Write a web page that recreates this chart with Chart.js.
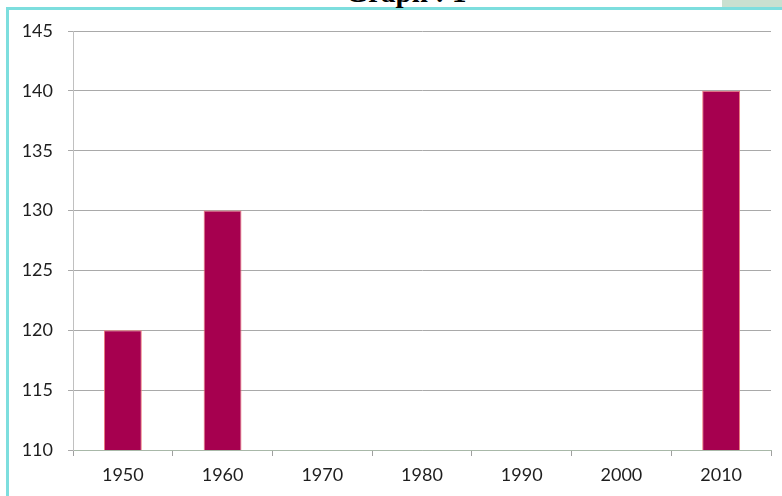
<!DOCTYPE html>
<html>
<head>
<meta charset="utf-8">
<script src="https://cdn.jsdelivr.net/npm/chart.js@4"></script>
<style>
  html, body { margin: 0; padding: 0; background: #fff; }
  #wrap { position: relative; width: 782px; height: 496px; overflow: hidden; }
  #frame { position: absolute; left: 6px; top: 7px; width: 800px; height: 520px;
           border: 3px solid #7ddede; box-sizing: border-box; }
  #title { position: absolute; left: 15px; width: 782px; top: -22px; text-align: center;
           font: bold 29px/29px "Liberation Serif", serif; color: #000; }
  #tab { position: absolute; left: 722px; top: 0; width: 60px; height: 7px; background: #c9e0d0; }
  canvas { position: absolute; left: 0; top: 0; }
</style>
</head>
<body>
<div id="wrap">
  <div id="frame"></div>
  <div id="tab"></div>
  <div id="title">Graph : 1</div>
  <canvas id="chart" width="782" height="496"></canvas>
</div>
<script>
// decades on the x axis
const years = ['1950', '1960', '1970', '1980', '1990', '2000', '2010'];
// bar heights, no bar drawn for the empty decades
const values = [120, 130, null, null, null, null, 140];
// y axis range
const yMin = 110;
const yMax = 145;
const yStep = 5;

const ctx = document.getElementById('chart').getContext('2d');
new Chart(ctx, {
  type: 'bar',
  data: {
    labels: years,
    datasets: [{
      data: values,
      backgroundColor: '#a6004f',
      borderColor: '#ee7a7a',
      borderWidth: 1,
      categoryPercentage: 1,
      barPercentage: 0.38,
    }],
  },
  options: {
    responsive: false,
    animation: false,
    layout: { padding: { top: 31, right: 11, left: 0, bottom: 0 } },
    plugins: {
      legend: { display: false },
      tooltip: { enabled: false },
    },
    scales: {
      x: {
        afterFit: (scale) => { scale.height = 46; },
        grid: {
          offset: true,
          drawOnChartArea: false,
          tickLength: 6,
          color: '#a0a0a0',
        },
        border: { color: '#a8b8a8', width: 1 },
        ticks: {
          color: '#1e1e1e',
          padding: 8,
          font: { family: 'Lato', size: 18 },
        },
      },
      y: {
        min: yMin,
        max: yMax,
        afterFit: (scale) => { scale.width = 73; },
        grid: {
          color: '#a9a9a9',
          tickLength: 5,
        },
        border: { color: '#c0c0c0', width: 1 },
        ticks: {
          stepSize: yStep,
          color: '#1e1e1e',
          padding: 15,
          font: { family: 'Lato', size: 18 },
        },
      },
    },
  },
});
</script>
</body>
</html>
